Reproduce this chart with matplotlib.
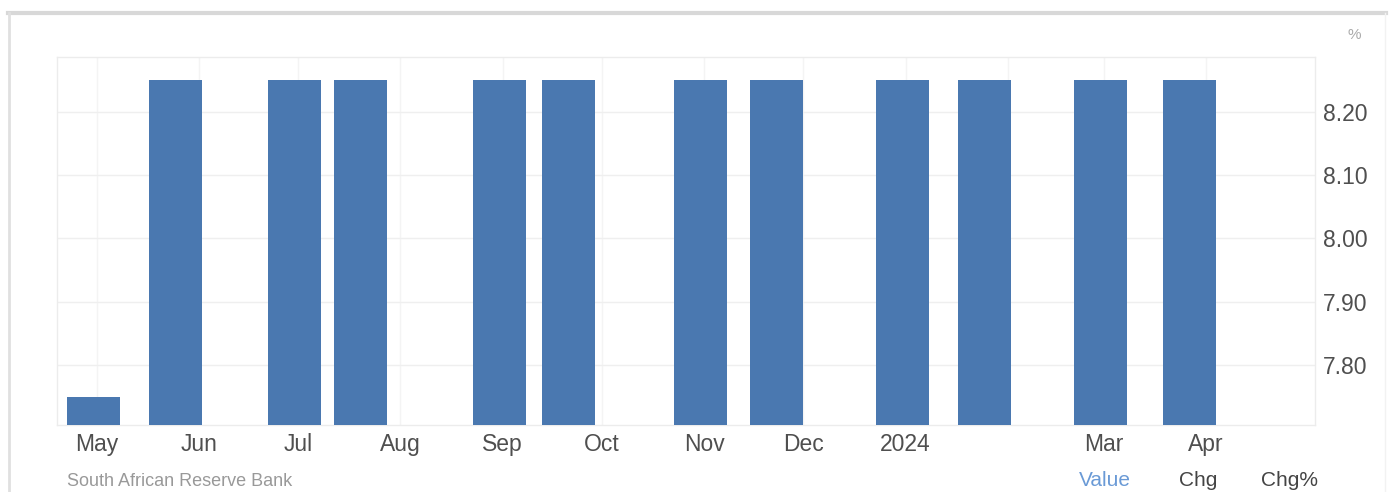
import matplotlib
matplotlib.use("Agg")
import matplotlib.pyplot as plt
import matplotlib.dates as mdates
from matplotlib.lines import Line2D
import datetime as dt

# Observation dates and policy rate values (%)
dates = ["2023-04-30", "2023-05-25", "2023-06-30", "2023-07-20", "2023-08-31",
         "2023-09-21", "2023-10-31", "2023-11-23", "2023-12-31", "2024-01-25",
         "2024-02-29", "2024-03-27"]
values = [7.75, 8.25, 8.25, 8.25, 8.25, 8.25, 8.25, 8.25, 8.25, 8.25, 8.25, 8.25]

tick_dates = ["2023-05-01", "2023-06-01", "2023-07-01", "2023-08-01", "2023-09-01",
              "2023-10-01", "2023-11-01", "2023-12-01", "2024-01-01", "2024-03-01",
              "2024-04-01"]
tick_labels = ["May", "Jun", "Jul", "Aug", "Sep", "Oct", "Nov", "Dec", "2024", "Mar", "Apr"]
grid_dates = ["2023-05-01", "2023-06-01", "2023-07-01", "2023-08-01", "2023-09-01",
              "2023-10-01", "2023-11-01", "2023-12-01", "2024-01-01", "2024-02-01",
              "2024-03-01", "2024-04-01"]
y_ticks = [7.80, 7.90, 8.00, 8.10, 8.20]

source = "South African Reserve Bank"
view_labels = ["Value", "Chg", "Chg%"]

plt.rcParams['font.family'] = ['Liberation Sans', 'DejaVu Sans']

fig = plt.figure(figsize=(13.94, 4.92), dpi=100)
ax = fig.add_axes([57 / 1394, 1 - 425 / 492, (1315 - 57) / 1394, (425 - 57) / 492])

x = [mdates.date2num(dt.date.fromisoformat(d)) for d in dates]
ax.bar(x, values, width=16, color="#4a78b0", zorder=3)

ax.set_ylim(7.705, 8.287)
ax.set_xlim(mdates.date2num(dt.date(2023, 4, 19)), mdates.date2num(dt.date(2024, 5, 4)))

# faint grid
for gd in grid_dates:
    ax.axvline(mdates.date2num(dt.date.fromisoformat(gd)), color="#f4f4f4", lw=1, zorder=1)
for yt in y_ticks:
    ax.axhline(yt, color="#efefef", lw=1, zorder=1)

ax.set_xticks([mdates.date2num(dt.date.fromisoformat(d)) for d in tick_dates])
ax.set_xticklabels(tick_labels)
ax.set_yticks(y_ticks)
ax.set_yticklabels([f"{v:.2f}" for v in y_ticks])
ax.yaxis.tick_right()
ax.tick_params(axis="both", length=0, labelsize=16.5, colors="#4f4f4f")
ax.tick_params(axis="x", pad=6)
ax.tick_params(axis="y", pad=6)

for side, sp in ax.spines.items():
    sp.set_color("#ececec")
    sp.set_linewidth(1)

# unit label
fig.text(1354 / 1394, 1 - 35 / 492, "%", fontsize=11, color="#aaaaaa", ha="center", va="center")

# footer
fig.text(67 / 1394, 1 - 482 / 492, source, fontsize=13, color="#999999", ha="left", va="center")
fig.text(1105 / 1394, 1 - 481 / 492, view_labels[0], fontsize=15, color="#6a9ad6", ha="center", va="center")
fig.text(1198 / 1394, 1 - 481 / 492, view_labels[1], fontsize=15, color="#444444", ha="center", va="center")
fig.text(1290 / 1394, 1 - 481 / 492, view_labels[2], fontsize=15, color="#444444", ha="center", va="center")

# panel frame
fig.add_artist(Line2D([8 / 1394, 1386 / 1394], [1 - 13 / 492, 1 - 13 / 492],
                      transform=fig.transFigure, color="#d8d8d8", lw=3))
fig.add_artist(Line2D([9 / 1394, 9 / 1394], [0, 1 - 13 / 492],
                      transform=fig.transFigure, color="#e0e0e0", lw=2))
fig.add_artist(Line2D([1385 / 1394, 1385 / 1394], [0, 1 - 13 / 492],
                      transform=fig.transFigure, color="#f2f2f2", lw=1))

fig.savefig("out.png", dpi=100, facecolor="white")
